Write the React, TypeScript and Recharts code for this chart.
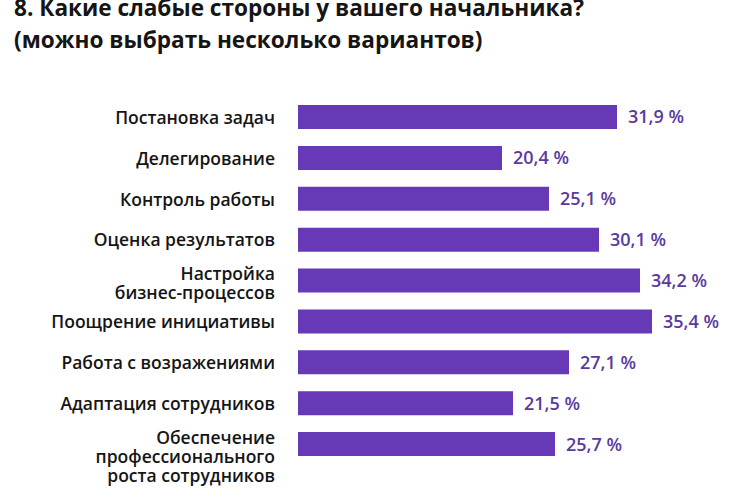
import { Bar, BarChart, LabelList, XAxis, YAxis } from 'recharts';

const categories = [
  'Постановка задач',
  'Делегирование',
  'Контроль работы',
  'Оценка результатов',
  'Настройка\nбизнес-процессов',
  'Поощрение инициативы',
  'Работа с возражениями',
  'Адаптация сотрудников',
  'Обеспечение\nпрофессионального\nроста сотрудников',
];

const shares = [31.9, 20.4, 25.1, 30.1, 34.2, 35.4, 27.1, 21.5, 25.7];

const titleLines = [
  '8. Какие слабые стороны у вашего начальника?',
  '(можно выбрать несколько вариантов)',
];

const data = categories.map((name, i) => ({ name, value: shares[i] }));

const FONT = '"Open Sans", "Noto Sans", sans-serif';
const BAR_COLOR = '#6739b6';
const LABEL_COLOR = '#5b3a9f';

function CategoryTick({ x, y, payload }: any) {
  const lines = String(payload.value).split('\n');
  const lh = 19;
  const start = lines.length > 1 ? -7 : 0;
  return (
    <text
      x={x}
      y={y}
      textAnchor="end"
      fill="#151515"
      fontFamily={FONT}
      fontSize={17.5}
      fontWeight={600}
    >
      {lines.map((line, i) => (
        <tspan key={i} x={x} y={y + start + i * lh} dy="0.36em">
          {line}
        </tspan>
      ))}
    </text>
  );
}

function formatShare(v: number) {
  return `${v.toFixed(1).replace('.', ',')} %`;
}

export default function App() {
  return (
    <div
      style={{
        position: 'absolute',
        left: 0,
        top: 0,
        width: 730,
        height: 498,
        background: '#fff',
        overflow: 'hidden',
      }}
    >
      {titleLines.map((t, i) => (
        <div
          key={t}
          style={{
            position: 'absolute',
            left: 14,
            top: i * 32,
            fontFamily: FONT,
            fontWeight: 700,
            fontSize: 22.6,
            lineHeight: '16px',
            color: '#151515',
            whiteSpace: 'nowrap',
          }}
        >
          {t}
        </div>
      ))}
      <BarChart
        width={730}
        height={498}
        data={data}
        layout="vertical"
        margin={{ top: 97, right: 32, bottom: 33, left: 0 }}
      >
        <XAxis type="number" domain={[0, 40]} hide />
        <YAxis
          type="category"
          dataKey="name"
          width={298}
          axisLine={false}
          tickLine={false}
          tickSize={0}
          tickMargin={23}
          interval={0}
          tick={<CategoryTick />}
        />
        <Bar dataKey="value" fill={BAR_COLOR} barSize={24} isAnimationActive={false}>
          <LabelList
            dataKey="value"
            position="right"
            offset={11}
            formatter={(v: any) => formatShare(Number(v))}
            fill={LABEL_COLOR}
            fontFamily={FONT}
            fontSize={18}
            fontWeight={600}
          />
        </Bar>
      </BarChart>
    </div>
  );
}
